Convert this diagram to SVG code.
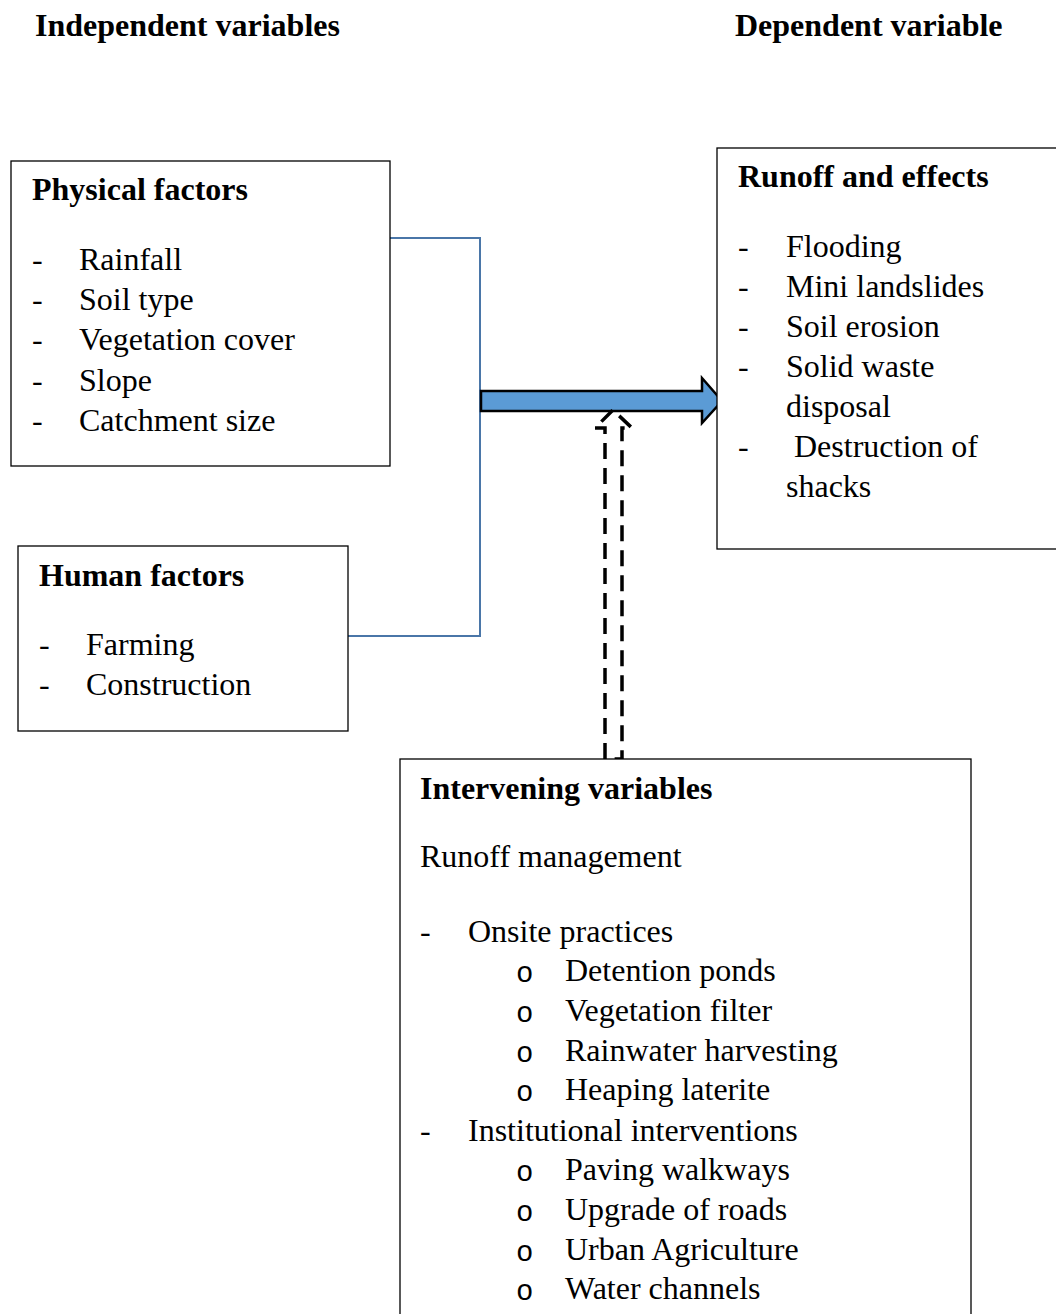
<svg xmlns="http://www.w3.org/2000/svg" width="1056" height="1314" viewBox="0 0 1056 1314">
<style>
text{font-family:"Liberation Serif","Times New Roman",serif;font-size:32px;fill:#000}
.b{font-weight:bold}
.box{fill:#fff;stroke:#000;stroke-width:1.3}
.o{font-family:"Liberation Mono","Courier New",monospace;font-size:29px}
</style>
<rect width="1056" height="1314" fill="#fff"/>
<text class="b" x="35" y="36">Independent variables</text>
<text class="b" x="735" y="36">Dependent variable</text>

<g id="connectors">
<path d="M390,238 H480 V636 H348" fill="none" stroke="#4a76a8" stroke-width="2"/>
<polygon points="481,391 702,391 702,378 722,401 702,423 702,411 481,411" fill="#5b9bd5" stroke="#000" stroke-width="2.5" stroke-linejoin="miter"/>
<polygon points="605,759 605,428 595,428 613,410 632,428 622,428 622,759" fill="none" stroke="#000" stroke-width="3.5" stroke-dasharray="16,9"/>
</g>

<g id="physical">
<rect class="box" x="11" y="161" width="379" height="305"/>
<text class="b" x="32" y="200">Physical factors</text>
<text x="32" y="270">-</text><text x="79" y="270">Rainfall</text>
<text x="32" y="310">-</text><text x="79" y="310">Soil type</text>
<text x="32" y="350">-</text><text x="79" y="350">Vegetation cover</text>
<text x="32" y="391">-</text><text x="79" y="391">Slope</text>
<text x="32" y="431">-</text><text x="79" y="431">Catchment size</text>
</g>

<g id="human">
<rect class="box" x="18" y="546" width="330" height="185"/>
<text class="b" x="39" y="586">Human factors</text>
<text x="39" y="655">-</text><text x="86" y="655">Farming</text>
<text x="39" y="695">-</text><text x="86" y="695">Construction</text>
</g>

<g id="runoff">
<rect class="box" x="717" y="148" width="345" height="401"/>
<text class="b" x="738" y="187">Runoff and effects</text>
<text x="738" y="257">-</text><text x="786" y="257">Flooding</text>
<text x="738" y="297">-</text><text x="786" y="297">Mini landslides</text>
<text x="738" y="337">-</text><text x="786" y="337">Soil erosion</text>
<text x="738" y="377">-</text><text x="786" y="377">Solid waste</text>
<text x="786" y="417">disposal</text>
<text x="738" y="457">-</text><text x="794" y="457">Destruction of</text>
<text x="786" y="497">shacks</text>
</g>

<g id="intervening">
<rect class="box" x="400" y="759" width="571" height="600"/>
<text class="b" x="420" y="799">Intervening variables</text>
<text x="420" y="867">Runoff management</text>
<text x="420" y="942">-</text><text x="468" y="942">Onsite practices</text>
<text class="o" x="516" y="982">o</text><text x="565" y="981">Detention ponds</text>
<text class="o" x="516" y="1022">o</text><text x="565" y="1021">Vegetation filter</text>
<text class="o" x="516" y="1062">o</text><text x="565" y="1061">Rainwater harvesting</text>
<text class="o" x="516" y="1101">o</text><text x="565" y="1100">Heaping laterite</text>
<text x="420" y="1141">-</text><text x="468" y="1141">Institutional interventions</text>
<text class="o" x="516" y="1181">o</text><text x="565" y="1180">Paving walkways</text>
<text class="o" x="516" y="1221">o</text><text x="565" y="1220">Upgrade of roads</text>
<text class="o" x="516" y="1261">o</text><text x="565" y="1260">Urban Agriculture</text>
<text class="o" x="516" y="1300">o</text><text x="565" y="1299">Water channels</text>
</g>
</svg>
